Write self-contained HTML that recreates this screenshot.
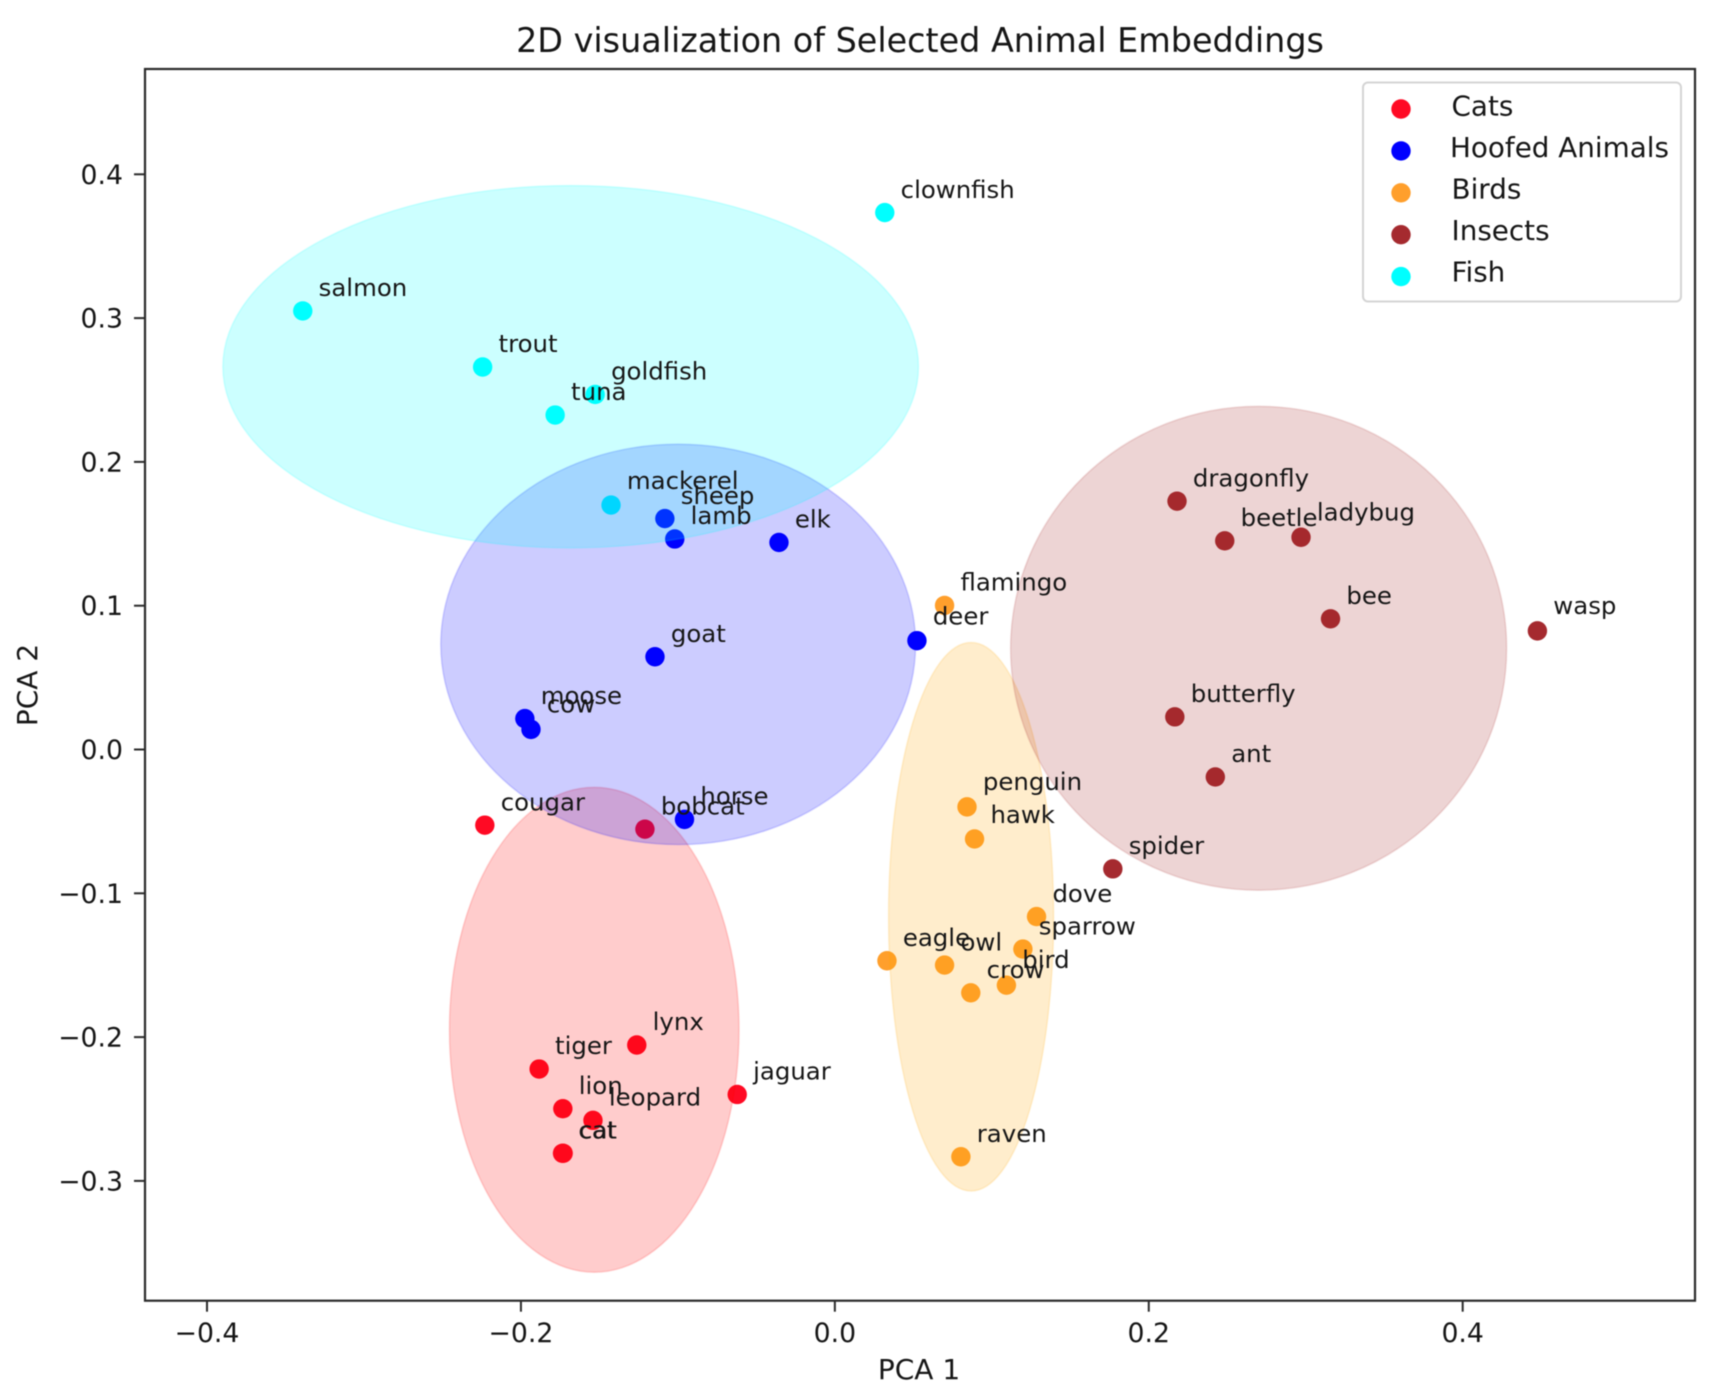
<!DOCTYPE html>
<html>
<head>
<meta charset="utf-8">
<title>2D visualization of Selected Animal Embeddings</title>
<style>
html,body{margin:0;padding:0;background:#fff;width:1720px;height:1398px;overflow:hidden}
svg{display:block;filter:blur(0.6px)}
text{font-family:"DejaVu Sans","Liberation Sans",sans-serif;fill:#161616}
</style>
</head>
<body>
<svg id="chart" xmlns="http://www.w3.org/2000/svg" width="1720" height="1398" viewBox="0 0 1720 1398">
  <rect x="0" y="0" width="1720" height="1398" fill="#fff"/>
  <rect x="145" y="69" width="1550" height="1231.7" fill="#fff"/>
  <g id="dots"></g>
  <g id="ellipses"></g>
  <g id="labels"></g>
  <g id="ticks"></g>
  <rect x="145" y="69" width="1550" height="1231.7" fill="none" stroke="#2b2b2b" stroke-width="2.2"/>
  <text x="920" y="52" font-size="33.4" text-anchor="middle">2D visualization of Selected Animal Embeddings</text>
  <text x="919" y="1379" font-size="28" text-anchor="middle">PCA 1</text>
  <text x="37" y="685" font-size="28" text-anchor="middle" transform="rotate(-90 37 685)">PCA 2</text>
  <g id="legend">
    <rect x="1363" y="82.5" width="318" height="219" rx="5" ry="5" fill="#fff" fill-opacity="0.8" stroke="#d4d4d4" stroke-width="2"/>
  </g>
</svg>
<script>
// Axis ticks
const xTicks = [-0.4, -0.2, 0.0, 0.2, 0.4];
const yTicks = [-0.3, -0.2, -0.1, 0.0, 0.1, 0.2, 0.3, 0.4];

// Group names and colours
const groupNames = ["Cats", "Hoofed Animals", "Birds", "Insects", "Fish"];
const groupColors = ["#ff0a24", "#0000ff", "#ff9f2c", "#a52a2f", "#00ffff"];
const ellipseColors = ["#ff0000", "#0000ff", "#ffa500", "#a52a2a", "#00ffff"];

// Cats
const catNames = ["cougar", "bobcat", "lynx", "tiger", "lion", "leopard", "cat", "cat", "jaguar"];
const catX = [-0.223, -0.121, -0.1262, -0.1884, -0.1733, -0.1541, -0.1735, -0.1731, -0.0622];
const catY = [-0.0526, -0.0554, -0.2055, -0.2222, -0.2498, -0.2579, -0.2808, -0.2808, -0.2399];

// Hoofed animals
const hoofNames = ["sheep", "lamb", "elk", "goat", "deer", "moose", "cow", "horse"];
const hoofX = [-0.1083, -0.102, -0.0356, -0.1146, 0.0523, -0.1975, -0.1936, -0.0958];
const hoofY = [0.1606, 0.1464, 0.144, 0.0645, 0.0757, 0.0215, 0.014, -0.0486];

// Birds
const birdNames = ["flamingo", "penguin", "hawk", "dove", "sparrow", "bird", "crow", "owl", "eagle", "raven"];
const birdX = [0.0699, 0.0842, 0.089, 0.1285, 0.1198, 0.1093, 0.0866, 0.0699, 0.0332, 0.0803];
const birdY = [0.1002, -0.0399, -0.0622, -0.1162, -0.1388, -0.1639, -0.1692, -0.1499, -0.1469, -0.2832];

// Insects
const insectNames = ["dragonfly", "beetle", "ladybug", "bee", "wasp", "butterfly", "ant", "spider"];
const insectX = [0.218, 0.2484, 0.297, 0.3158, 0.4476, 0.2166, 0.2424, 0.1771];
const insectY = [0.1727, 0.1451, 0.1476, 0.0909, 0.0825, 0.0227, -0.0191, -0.083];

// Fish
const fishNames = ["salmon", "trout", "goldfish", "tuna", "mackerel", "clownfish"];
const fishX = [-0.339, -0.2244, -0.1527, -0.1782, -0.1426, 0.0318];
const fishY = [0.305, 0.266, 0.2469, 0.2326, 0.17, 0.3734];

// Group ellipses, in data units
const ellipseCenterX = [-0.1533, -0.0998, 0.0868, 0.2700, -0.1683];
const ellipseCenterY = [-0.1949, 0.0731, -0.1163, 0.0704, 0.2662];
const ellipseWidth = [0.1845, 0.3025, 0.1052, 0.3160, 0.4432];
const ellipseHeight = [0.3372, 0.2785, 0.3815, 0.3365, 0.2520];

const groupLabelLists = [catNames, hoofNames, birdNames, insectNames, fishNames];
const groupXLists = [catX, hoofX, birdX, insectX, fishX];
const groupYLists = [catY, hoofY, birdY, insectY, fishY];

// Small vertical label nudges for text hinting in the reference
const labelNudge = { ladybug: -2.2, bird: -2.2, penguin: -2.2, wasp: -2.2, cow: -2.2, hawk: -1.2, deer: -1.2, mackerel: -1 };

const NS = "http://www.w3.org/2000/svg";
const xScale = 1569.6, xZero = 834.85;
const yScale = 1438, yZero = 749.5;
const axisBottom = 1300.7, axisLeft = 145;
function sx(v) { return xZero + v * xScale; }
function sy(v) { return yZero - v * yScale; }
function slug(s) { return s.toLowerCase().replace(/\s+/g, "-"); }
function fmt(v) { return (v < 0 ? "\u2212" : "") + Math.abs(v).toFixed(1); }

const dots = document.getElementById("dots");
const ellipses = document.getElementById("ellipses");
const labels = document.getElementById("labels");
const ticks = document.getElementById("ticks");
const legend = document.getElementById("legend");

groupNames.forEach(function (g, gi) {
  groupLabelLists[gi].forEach(function (name, i) {
    const c = document.createElementNS(NS, "circle");
    
    
    c.setAttribute("cx", sx(groupXLists[gi][i]));
    c.setAttribute("cy", sy(groupYLists[gi][i]));
    c.setAttribute("r", 9.7);
    c.setAttribute("fill", groupColors[gi]);
    dots.appendChild(c);

    const t = document.createElementNS(NS, "text");
    
    
    t.setAttribute("x", sx(groupXLists[gi][i]) + 15.9);
    t.setAttribute("y", sy(groupYLists[gi][i]) - 14.8 + (labelNudge[name] || 0));
    t.setAttribute("font-size", 24.4);
    t.textContent = name;
    labels.appendChild(t);
  });

  const e = document.createElementNS(NS, "ellipse");
  
  
  e.setAttribute("cx", sx(ellipseCenterX[gi]));
  e.setAttribute("cy", sy(ellipseCenterY[gi]));
  e.setAttribute("rx", ellipseWidth[gi] * xScale / 2);
  e.setAttribute("ry", ellipseHeight[gi] * yScale / 2);
  e.setAttribute("fill", ellipseColors[gi]);
  e.setAttribute("fill-opacity", 0.2);
  e.setAttribute("stroke", ellipseColors[gi]);
  e.setAttribute("stroke-opacity", 0.15);
  e.setAttribute("stroke-width", 1.6);
  ellipses.appendChild(e);

  const ld = document.createElementNS(NS, "circle");
  
  
  ld.setAttribute("cx", 1401);
  ld.setAttribute("cy", 109 + gi * 41.9);
  ld.setAttribute("r", 9.7);
  ld.setAttribute("fill", groupColors[gi]);
  legend.appendChild(ld);

  const lt = document.createElementNS(NS, "text");
  
  
  lt.setAttribute("x", gi === 1 ? 1450 : 1451.5);
  lt.setAttribute("y", 115.6 + gi * 41.5);
  lt.setAttribute("font-size", 27.8);
  lt.textContent = g;
  legend.appendChild(lt);
});

xTicks.forEach(function (v) {
  const l = document.createElementNS(NS, "line");
  
  
  l.setAttribute("x1", sx(v));
  l.setAttribute("x2", sx(v));
  l.setAttribute("y1", axisBottom);
  l.setAttribute("y2", axisBottom + 11);
  l.setAttribute("stroke", "#2b2b2b");
  l.setAttribute("stroke-width", 2);
  ticks.appendChild(l);

  const t = document.createElementNS(NS, "text");
  
  
  t.setAttribute("x", sx(v));
  t.setAttribute("y", 1342);
  t.setAttribute("font-size", 26.7);
  t.setAttribute("text-anchor", "middle");
  t.textContent = fmt(v);
  ticks.appendChild(t);
});

yTicks.forEach(function (v) {
  const l = document.createElementNS(NS, "line");
  
  
  l.setAttribute("x1", axisLeft - 11);
  l.setAttribute("x2", axisLeft);
  l.setAttribute("y1", sy(v));
  l.setAttribute("y2", sy(v));
  l.setAttribute("stroke", "#2b2b2b");
  l.setAttribute("stroke-width", 2);
  ticks.appendChild(l);

  const t = document.createElementNS(NS, "text");
  
  
  t.setAttribute("x", 123);
  t.setAttribute("y", sy(v) + 9.5);
  t.setAttribute("font-size", 26.7);
  t.setAttribute("text-anchor", "end");
  t.textContent = fmt(v);
  ticks.appendChild(t);
});
</script>
</body>
</html>
